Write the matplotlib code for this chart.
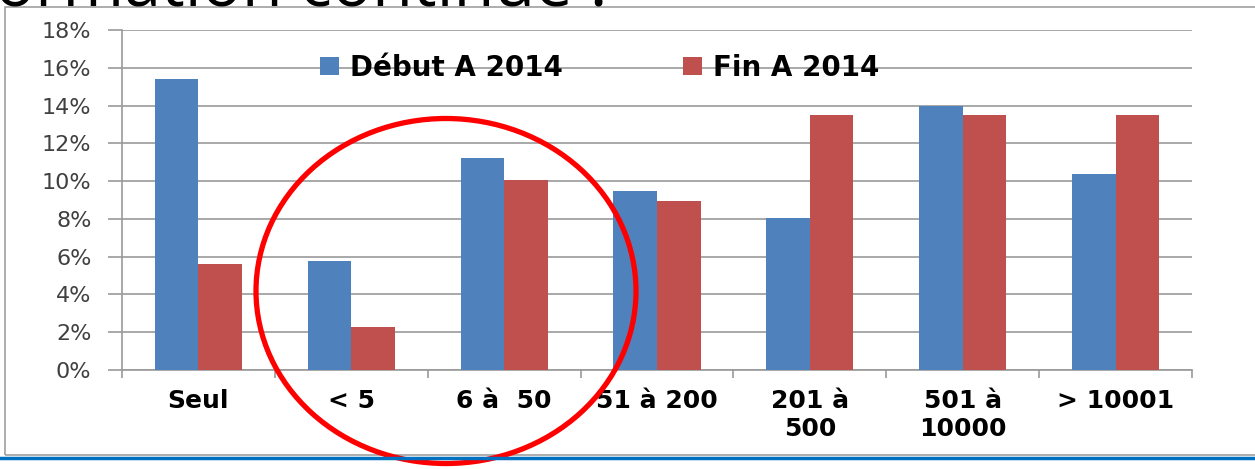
import numpy as np
import matplotlib.pyplot as plt
from matplotlib.patches import Ellipse, Rectangle
from matplotlib.ticker import PercentFormatter

# effectif de l'entreprise
categories = ["Seul", "< 5", "6 à  50", "51 à 200", "201 à\n500", "501 à\n10000", "> 10001"]
debut_2014 = [15.4, 5.75, 11.2, 9.5, 8.05, 14.0, 10.4]
fin_2014 = [5.6, 2.3, 10.05, 8.95, 13.5, 13.5, 13.5]
series_names = ["Début A 2014", "Fin A 2014"]

blue = "#4F81BD"
red = "#C0504D"
grey = "#9a9a9a"

fig = plt.figure(figsize=(12.55, 4.69), dpi=100)
ax = fig.add_axes([0.0972, 0.211, 0.8526, 0.725])

x = np.arange(len(categories))
w = 0.285
ax.bar(x - w / 2, debut_2014, w, color=blue, label=series_names[0], zorder=3)
ax.bar(x + w / 2, fin_2014, w, color=red, label=series_names[1], zorder=3)

ax.set_xlim(-0.5, len(categories) - 0.5)
ax.set_ylim(0, 18)
ax.set_yticks(np.arange(0, 19, 2))
ax.yaxis.set_major_formatter(PercentFormatter(decimals=0))
ax.grid(axis="y", color=grey, lw=1.2, zorder=0)

for s in ["top", "right"]:
    ax.spines[s].set_visible(False)
for s in ["left", "bottom"]:
    ax.spines[s].set_color(grey)
    ax.spines[s].set_linewidth(1.2)

# ticks between categories, like excel
ax.set_xticks(np.arange(-0.5, len(categories), 1.0))
ax.set_xticklabels([])
ax.set_xticks(x, minor=True)
ax.set_xticklabels(categories, minor=True, fontsize=18, fontweight="bold",
                   family="DejaVu Sans", linespacing=1.2)
ax.tick_params(axis="x", which="minor", length=0, pad=14)
ax.tick_params(axis="x", which="major", length=6, width=1.2, color=grey, direction="out")
ax.tick_params(axis="y", length=10, width=1.2, color=grey, labelsize=16,
               labelcolor="#404040", pad=12)

ax.legend(loc="center left", bbox_to_anchor=(306 / 1255, 1 - 68 / 469),
          bbox_transform=fig.transFigure,
          ncol=2, frameon=False, borderpad=0, handlelength=0.7, handleheight=0.6,
          handletextpad=0.4, columnspacing=4.3,
          prop={"size": 20, "weight": "bold", "family": "DejaVu Sans"})

# cadre du graphique + ligne bleue de la diapo
fig.add_artist(Rectangle((5 / 1255, 1 - 455 / 469), 1.1, (455 - 7) / 469,
                         transform=fig.transFigure, fill=False, ec="#a0a0a0", lw=1.2))
fig.add_artist(plt.Line2D([0, 1], [1 - 458 / 469] * 2, transform=fig.transFigure,
                          color="#0070C0", lw=2.5))

# titre de la diapo, coupe en haut
fig.text(-0.004, 1 - 6 / 469, "ormation continue :", fontsize=48, family="Open Sans",
         va="baseline", ha="left", color="black")

# cercle rouge
fig.add_artist(Ellipse((446 / 1255, 1 - 291 / 469), 380 / 1255, 345 / 469,
                       transform=fig.transFigure, fill=False, ec="#FF0000", lw=3.8))

fig.savefig("out.png", dpi=100)
